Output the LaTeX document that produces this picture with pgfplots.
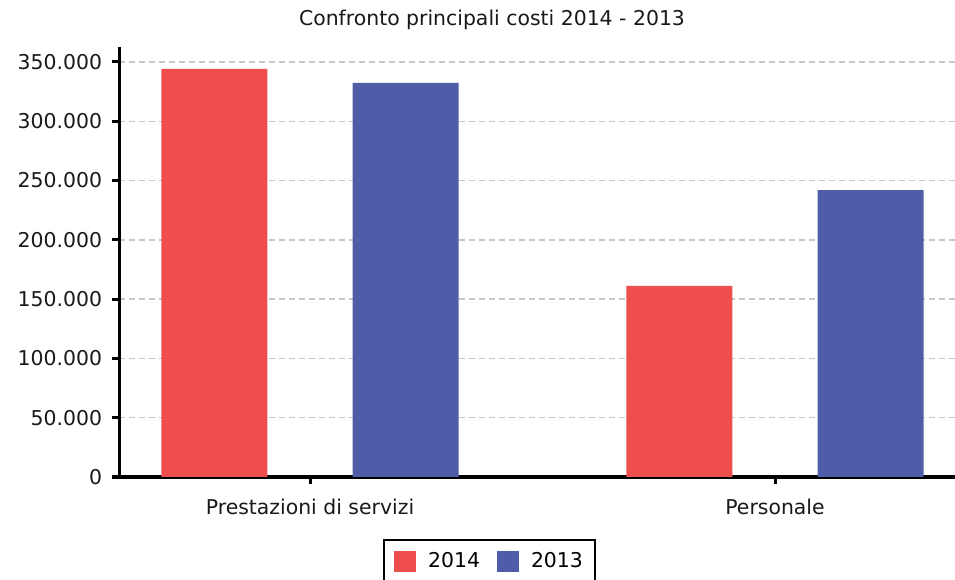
\documentclass[border=0pt]{standalone}
\usepackage{pgfplots}
\pgfplotsset{compat=1.18}
\usepackage{fontspec}
\setmainfont{DejaVu Sans}
\definecolor{red14}{RGB}{239,78,78}
\definecolor{blue13}{RGB}{79,93,169}
\begin{document}
\fontsize{20.4bp}{24bp}\selectfont
\begin{tikzpicture}
\path[use as bounding box] (0,0) rectangle (955bp,580bp);
\begin{axis}[
  at={(119bp,103bp)}, anchor=south west, scale only axis,
  width=836bp, height=430bp,
  xmin=-0.4108, xmax=1.3871, ymin=0, ymax=362650,
  axis x line=bottom, axis y line=left,
  axis line style={-, line width=3bp, black},
  xtick={0,1}, xticklabels={Prestazioni di servizi, Personale},
  ytick={0,50000,100000,150000,200000,250000,300000,350000},
  yticklabels={0,50.000,100.000,150.000,200.000,250.000,300.000,350.000},
  scaled y ticks=false,
  /pgf/number format/assume math mode=true,
  tick align=outside, major tick length=7bp,
  tick style={black, line width=3bp},
  ymajorgrids, grid style={black!22, line width=1.4bp, dash pattern=on 6bp off 4bp},
  yticklabel style={anchor=east, xshift=-3bp, text=black!90},
  xticklabel style={anchor=north, yshift=-8bp, text=black!90},
  legend style={at={(0.3158,-0.1442)}, anchor=north west, draw=black, line width=2.2bp,
    inner xsep=10bp, inner ysep=10bp, font=\fontsize{20.4bp}{24bp}\selectfont,
    /tikz/every odd column/.append style={column sep=10bp},
    /tikz/every even column/.append style={column sep=15bp}},
  legend columns=-1,
  legend image code/.code={\fill[#1] (0bp,-10.5bp) rectangle (22bp,10.5bp);},
]
\addplot[ybar, bar width=0.228, bar shift=0, fill=red14, draw=none]
  coordinates {(-0.2056,344100) (0.7944,161100)};
\addlegendentry{2014}
\addplot[ybar, bar width=0.228, bar shift=0, fill=blue13, draw=none]
  coordinates {(0.2056,332300) (1.2056,242000)};
\addlegendentry{2013}
\end{axis}
\node[anchor=center, text=black!90] at (492bp,560bp) {Confronto principali costi 2014 - 2013};
\end{tikzpicture}
\end{document}
